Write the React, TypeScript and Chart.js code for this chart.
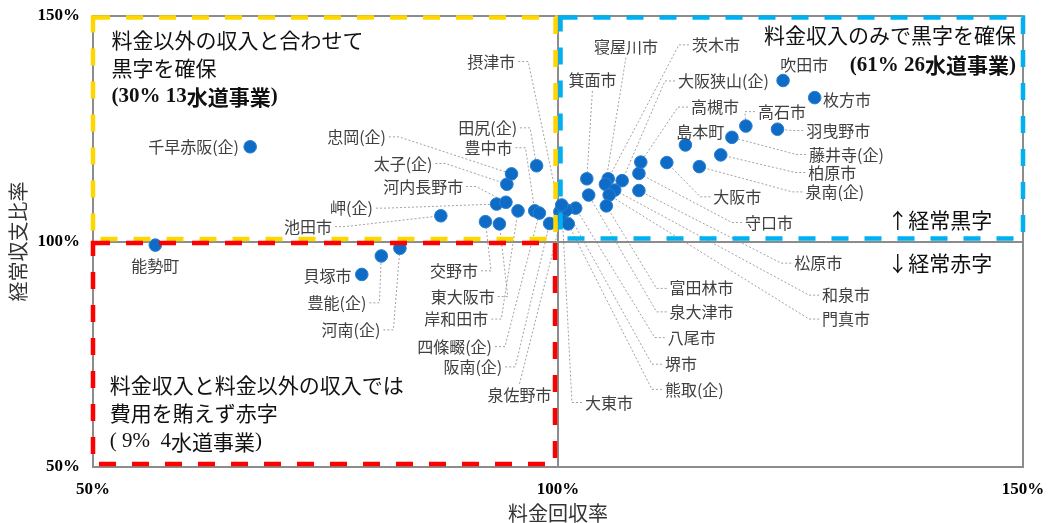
import React, { useEffect, useRef } from "react";
import { Chart, registerables } from "chart.js";

Chart.register(...registerables);

// ---- data ----
const names = [
  "能勢町", "貝塚市", "豊能(企)", "河南(企)",
  "千早赤阪(企)", "池田市", "岬(企)", "河内長野市", "太子(企)", "忠岡(企)", "田尻(企)", "豊中市",
  "交野市", "東大阪市", "岸和田市", "四條畷(企)", "阪南(企)", "摂津市", "泉佐野市",
  "吹田市", "枚方市", "高石市", "羽曳野市", "藤井寺(企)", "島本町", "柏原市", "泉南(企)",
  "大阪市", "守口市", "高槻市", "大阪狭山(企)", "茨木市", "寝屋川市", "箕面市",
  "松原市", "和泉市", "門真市", "富田林市", "泉大津市", "八尾市", "堺市", "熊取(企)", "大東市",
];
// 料金回収率 (%)
const recovery = [
  56.7, 78.9, 81.0, 83.0,
  66.9, 87.4, 93.4, 94.4, 94.5, 95.0, 97.7, 97.5,
  92.2, 93.7, 95.7, 98.0, 99.1, 100.2, 100.4,
  124.2, 127.6, 120.2, 123.6, 118.7, 113.7, 117.5, 115.2,
  111.7, 108.7, 108.9, 106.9, 105.4, 105.1, 103.1,
  108.7, 106.1, 105.5, 105.2, 103.3, 101.9, 100.9, 101.1, 100.4,
];
// 経常収支比率 (%)
const balance = [
  99.2, 92.7, 96.8, 98.5,
  121.0, 105.7, 108.3, 108.7, 112.7, 115.0, 116.8, 106.8,
  104.4, 103.9, 106.8, 106.3, 104.0, 106.6, 105.5,
  135.7, 131.9, 125.6, 124.9, 123.1, 121.4, 119.2, 116.6,
  117.5, 115.1, 117.6, 113.5, 113.9, 112.7, 113.9,
  111.3, 111.4, 110.3, 107.9, 110.3, 107.4, 107.0, 103.9, 108.1,
];
const xTicks = [50, 100, 150];
const yTicks = [50, 100, 150];

// ---- label layout (in axis units) ----
const labelX = [
  56.7, 77.8, 79.4, 80.9,
  65.7, 75.7, 80.1, 89.8, 86.5, 81.5, 95.6, 95.1,
  91.4, 93.2, 92.5, 92.9, 94.0, 95.4, 99.3,
  123.9, 128.5, 121.5, 126.7, 127.0, 115.3, 126.9, 126.6,
  116.7, 120.1, 114.3, 112.9, 114.4, 107.3, 103.7,
  125.4, 128.4, 128.4, 112.0, 112.0, 111.8, 111.5, 111.5, 102.9,
];
const labelY = [
  94.6, 92.4, 86.4, 80.4,
  121.0, 103.3, 107.4, 112.2, 117.3, 123.2, 125.2, 120.8,
  93.5, 87.8, 82.8, 76.7, 72.2, 139.9, 66.0,
  139.1, 131.5, 128.8, 124.6, 119.3, 124.4, 115.3, 111.0,
  109.9, 104.2, 129.8, 135.6, 143.6, 143.2, 135.8,
  95.2, 88.1, 82.8, 89.6, 84.4, 78.7, 72.8, 67.2, 64.3,
];
const labelAlign = [
  "c", "r", "r", "r",
  "r", "r", "r", "r", "r", "r", "r", "r",
  "r", "r", "r", "r", "r", "r", "r",
  "l", "l", "l", "l", "l", "c", "l", "l",
  "l", "l", "l", "l", "l", "c", "c",
  "l", "l", "l", "l", "l", "l", "l", "l", "l",
];
// 0: no leader, 1: horizontal stub + line, 2: from text top/bottom
const leaderKind = [
  0, 0, 1, 1,
  0, 1, 1, 1, 1, 1, 1, 1,
  1, 1, 1, 1, 1, 1, 2,
  0, 0, 1, 1, 1, 0, 1, 1,
  1, 1, 1, 1, 1, 2, 2,
  1, 1, 1, 1, 1, 1, 1, 1, 1,
];

const CJK = "'Noto Sans CJK JP', 'Noto Sans CJK SC', sans-serif";
const SERIF = "'Liberation Serif', 'DejaVu Serif', serif";
const LABEL_FONT = `16px ${CJK}`;

type Run = [string, string];
const quadrantTexts: { x: number; y: number; align: "left" | "right"; runs: Run[] }[] = [
  { x: 52.0, y: 144.7, align: "left", runs: [["料金以外の収入と合わせて", `21px ${CJK}`]] },
  { x: 52.0, y: 138.5, align: "left", runs: [["黒字を確保", `21px ${CJK}`]] },
  { x: 52.0, y: 132.1, align: "left", runs: [["(30% 13", `bold 21px ${SERIF}`], ["水道事業", `bold 21px ${CJK}`], [")", `bold 21px ${SERIF}`]] },
  { x: 149.25, y: 145.8, align: "right", runs: [["料金収入のみで黒字を確保", `21px ${CJK}`]] },
  { x: 149.25, y: 139.1, align: "right", runs: [["(61% 26", `bold 21px ${SERIF}`], ["水道事業", `bold 21px ${CJK}`], [")", `bold 21px ${SERIF}`]] },
  { x: 146.7, y: 104.8, align: "right", runs: [["↑経常黒字", `21px ${CJK}`]] },
  { x: 146.7, y: 95.2, align: "right", runs: [["↓経常赤字", `21px ${CJK}`]] },
  { x: 51.8, y: 68.2, align: "left", runs: [["料金収入と料金以外の収入では", `21px ${CJK}`]] },
  { x: 51.8, y: 62.0, align: "left", runs: [["費用を賄えず赤字", `21px ${CJK}`]] },
  { x: 51.8, y: 55.6, align: "left", runs: [["( 9%  4", `21px ${SERIF}`], ["水道事業", `21px ${CJK}`], [")", `21px ${SERIF}`]] },
];

const quadrantBoxes = [
  { x0: 50, x1: 100, y0: 100, y1: 150, color: "#FFD700", inset: [0, 2.5, 2.5, 1.5] },
  { x0: 100, x1: 150, y0: 100, y1: 150, color: "#00B0F0", inset: [2.5, 0, 3, 1.5] },
  { x0: 50, x1: 100, y0: 50, y1: 100, color: "#FF0000", inset: [0, 3, 3, 1.5] },
];

const annotPlugin = {
  id: "annot",
  beforeDatasetsDraw(chart: any) {
    const { ctx, scales } = chart;
    const xs = scales.x, ys = scales.y;
    ctx.save();
    ctx.font = LABEL_FONT;
    ctx.strokeStyle = "#8a8a8a";
    ctx.lineWidth = 0.8;
    ctx.setLineDash([2, 2]);
    names.forEach((n, i) => {
      const kind = leaderKind[i];
      if (!kind) return;
      const tx = xs.getPixelForValue(labelX[i]);
      const ty = ys.getPixelForValue(labelY[i]);
      const px = xs.getPixelForValue(recovery[i]);
      const py = ys.getPixelForValue(balance[i]);
      const w = ctx.measureText(n).width;
      const al = labelAlign[i];
      ctx.beginPath();
      if (kind === 1) {
        const dir = al === "r" ? 1 : -1;
        ctx.moveTo(tx + dir * 3, ty);
        ctx.lineTo(tx + dir * 13, ty);
        ctx.lineTo(px, py);
      } else {
        const cx = al === "r" ? tx - w / 2 : al === "l" ? tx + w / 2 : tx;
        const sy = py < ty ? ty - 11 : ty + 11;
        ctx.moveTo(cx, sy);
        ctx.lineTo(px, py);
      }
      ctx.stroke();
    });
    ctx.restore();
  },
  afterDatasetsDraw(chart: any) {
    const { ctx, scales } = chart;
    const xs = scales.x, ys = scales.y;
    ctx.save();
    // quadrant dashed boxes
    ctx.lineWidth = 4.5;
    ctx.setLineDash([17, 16]);
    quadrantBoxes.forEach((b) => {
      const l = xs.getPixelForValue(b.x0) + b.inset[0];
      const r = xs.getPixelForValue(b.x1) - b.inset[1];
      const btm = ys.getPixelForValue(b.y0) - b.inset[2];
      const t = ys.getPixelForValue(b.y1) + b.inset[3];
      ctx.strokeStyle = b.color;
      ctx.strokeRect(l, t, r - l, btm - t);
    });
    ctx.setLineDash([]);
    // point labels
    ctx.font = LABEL_FONT;
    ctx.fillStyle = "#404040";
    ctx.textBaseline = "middle";
    names.forEach((n, i) => {
      const al = labelAlign[i];
      ctx.textAlign = al === "r" ? "right" : al === "l" ? "left" : "center";
      ctx.fillText(n, xs.getPixelForValue(labelX[i]), ys.getPixelForValue(labelY[i]));
    });
    // quadrant texts
    ctx.fillStyle = "#111";
    ctx.textAlign = "left";
    quadrantTexts.forEach((q) => {
      let total = 0;
      q.runs.forEach(([t, f]) => { ctx.font = f; total += ctx.measureText(t).width; });
      let x = xs.getPixelForValue(q.x);
      if (q.align === "right") x -= total;
      const y = ys.getPixelForValue(q.y);
      q.runs.forEach(([t, f]) => {
        ctx.font = f;
        ctx.fillText(t, x, y);
        x += ctx.measureText(t).width;
      });
    });
    ctx.restore();
  },
};

export default function App() {
  const ref = useRef<HTMLCanvasElement | null>(null);
  useEffect(() => {
    document.body.style.margin = "0";
    const canvas = ref.current;
    if (!canvas) return;
    const gridColor = "#8c8c8c";
    const chart = new Chart(canvas, {
      type: "scatter",
      data: {
        datasets: [
          {
            data: names.map((_, i) => ({ x: recovery[i], y: balance[i] })),
            pointRadius: 6.3,
            pointHoverRadius: 6.3,
            backgroundColor: "#0f6cc6",
            borderColor: "#2b7fd0",
            borderWidth: 1,
          },
        ],
      },
      options: {
        animation: false,
        responsive: false,
        maintainAspectRatio: false,
        events: [],
        layout: { padding: { left: 0, right: 25, top: 16, bottom: 0 } },
        plugins: { legend: { display: false }, tooltip: { enabled: false } },
        scales: {
          x: {
            type: "linear",
            min: 50,
            max: 150,
            afterBuildTicks: (s: any) => { s.ticks = xTicks.map((v) => ({ value: v })); },
            ticks: {
              callback: (v: any) => v + "%",
              font: { family: SERIF, size: 17, weight: "bold" },
              color: "#000",
              padding: 12,
              maxRotation: 0,
              autoSkip: false,
            },
            grid: { color: gridColor, lineWidth: 2, drawTicks: false },
            border: { display: true, color: gridColor, width: 2 },
            title: {
              display: true,
              text: "料金回収率",
              font: { family: CJK, size: 20, lineHeight: 1 },
              color: "#333",
              padding: { top: 0, bottom: 0 },
            },
            afterFit: (s: any) => {
              s.height = 56;
              s.paddingLeft = 0;
              s.paddingRight = 0;
            },
          },
          y: {
            type: "linear",
            min: 50,
            max: 150,
            afterBuildTicks: (s: any) => { s.ticks = yTicks.map((v) => ({ value: v })); },
            ticks: {
              callback: (v: any) => v + "%",
              font: { family: SERIF, size: 17, weight: "bold" },
              color: "#000",
              padding: 13,
              autoSkip: false,
            },
            grid: { color: gridColor, lineWidth: 2, drawTicks: false },
            border: { display: true, color: gridColor, width: 2 },
            title: {
              display: true,
              text: "経常収支比率",
              font: { family: CJK, size: 20, lineHeight: 1 },
              color: "#333",
              padding: { top: 8, bottom: 0 },
            },
            afterFit: (s: any) => {
              s.width = 93;
              s.paddingTop = 0;
              s.paddingBottom = 0;
            },
          },
        },
      } as any,
      plugins: [annotPlugin],
    });
    return () => chart.destroy();
  }, []);
  return (
    <div style={{ width: 1048, height: 523, position: "relative" }}>
      <canvas ref={ref} width={1048} height={523} style={{ display: "block" }} />
    </div>
  );
}
